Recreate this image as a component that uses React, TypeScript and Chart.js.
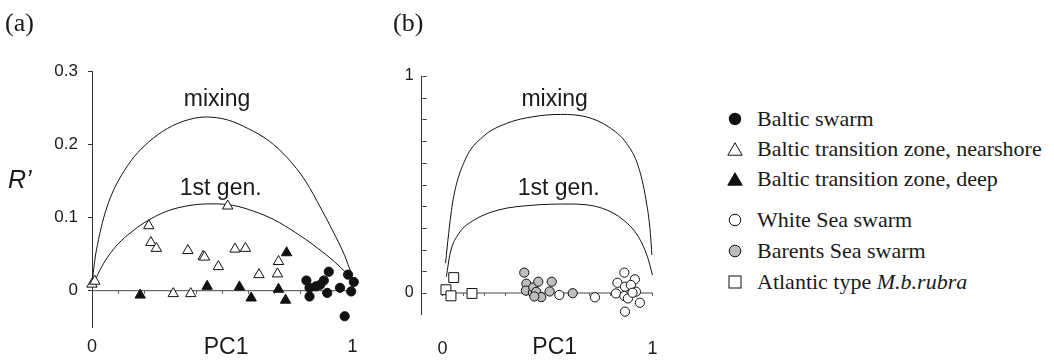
import React, { useEffect, useRef } from 'react';
import { Chart, registerables } from 'chart.js';

Chart.register(...registerables);

const SANS = '"Liberation Sans", Arial, sans-serif';
const SERIF = '"Liberation Serif", "Times New Roman", serif';

// ---------- Panel (a) data ----------
const balticSwarm: [number, number][] = [
  [0.823, 0.014], [0.835, 0.004], [0.835, -0.008], [0.86, 0.006], [0.876, 0.008],
  [0.89, 0.014], [0.909, 0.026], [0.903, -0.003], [0.952, 0.004], [0.983, 0.022],
  [1.005, 0.012], [0.995, -0.001], [0.97, -0.035],
];
const balticNearshore: [number, number][] = [
  [0.0, 0.009], [0.011, 0.013], [0.218, 0.089], [0.226, 0.066], [0.247, 0.058],
  [0.368, 0.055], [0.427, 0.047], [0.432, 0.046], [0.485, 0.033], [0.521, 0.116],
  [0.549, 0.057], [0.589, 0.058], [0.641, 0.022], [0.716, 0.04], [0.712, 0.023],
  [0.312, -0.004], [0.379, -0.004],
];
const balticDeep: [number, number][] = [
  [0.185, -0.006], [0.442, 0.006], [0.566, 0.005], [0.611, -0.01],
  [0.716, 0.002], [0.743, -0.013], [0.747, 0.052],
];
const mixingA: [number, number][] = [
  [0.0, 0.008], [0.01, 0.04], [0.025, 0.07], [0.045, 0.1], [0.07, 0.127],
  [0.1, 0.15], [0.15, 0.178], [0.2, 0.198], [0.27, 0.218], [0.35, 0.232],
  [0.435, 0.238], [0.52, 0.234], [0.6, 0.222], [0.68, 0.205], [0.75, 0.182],
  [0.82, 0.15], [0.88, 0.112], [0.93, 0.078], [0.97, 0.048], [0.995, 0.024],
];
const firstGenA: [number, number][] = [
  [0.005, 0.008], [0.03, 0.028], [0.06, 0.046], [0.1, 0.064], [0.15, 0.08],
  [0.2, 0.093], [0.288, 0.109], [0.38, 0.117], [0.46, 0.119], [0.54, 0.117],
  [0.62, 0.109], [0.7, 0.097], [0.78, 0.08], [0.86, 0.06], [0.93, 0.04],
  [0.977, 0.024],
];

// ---------- Panel (b) data ----------
const whiteSea: [number, number][] = [
  [0.556, -0.009], [0.726, -0.02], [0.866, 0.094], [0.833, 0.047], [0.916, 0.063],
  [0.826, -0.002], [0.869, 0.029], [0.897, 0.037], [0.866, -0.014], [0.883, -0.025],
  [0.921, 0.006], [0.905, 0.001], [0.94, -0.045], [0.869, -0.086],
];
const barentsSea: [number, number][] = [
  [0.389, 0.094], [0.399, 0.043], [0.397, 0.011], [0.43, 0.001], [0.432, 0.026],
  [0.456, 0.052], [0.446, 0.005], [0.47, -0.019], [0.437, -0.016], [0.52, 0.052],
  [0.51, 0.007], [0.62, -0.001],
];
const atlanticRubra: [number, number][] = [
  [0.053, 0.071], [0.016, 0.015], [0.04, -0.013], [0.14, -0.002],
];
const mixingB: [number, number][] = [
  [0.014, 0.137], [0.029, 0.275], [0.05, 0.43], [0.107, 0.613], [0.192, 0.72],
  [0.306, 0.782], [0.435, 0.813], [0.563, 0.823], [0.691, 0.81], [0.79, 0.766],
  [0.876, 0.69], [0.933, 0.582], [0.969, 0.43], [0.99, 0.275], [0.997, 0.175],
];
const firstGenB: [number, number][] = [
  [0.018, 0.075], [0.036, 0.183], [0.078, 0.275], [0.15, 0.336], [0.264, 0.382],
  [0.435, 0.405], [0.605, 0.41], [0.762, 0.39], [0.862, 0.336], [0.933, 0.259],
  [0.976, 0.167], [1.0, 0.083],
];
const zeroLine: [number, number][] = [[0, 0], [1, 0]];

// ---------- tick values ----------
const xTicks = [0, 0.1, 0.2, 0.3, 0.4, 0.5, 0.6, 0.7, 0.8, 0.9, 1];
const xLabelled = [0, 1];
const yTicksA = [0, 0.1, 0.2, 0.3];
const yTicksB = [0, 0.1, 0.2, 0.3, 0.4, 0.5, 0.6, 0.7, 0.8, 0.9, 1];
const yLabelledB = [0, 1];

const pts = (a: [number, number][]) => a.map(([x, y]) => ({ x, y }));

const textPlugin = {
  id: 'panelText',
  afterDraw(chart: any, _args: any, opts: any) {
    const { ctx, chartArea } = chart;
    const xs = chart.scales.x;
    const ys = chart.scales.y;
    ctx.save();
    if (opts.innerTicks) {
      ctx.strokeStyle = '#333';
      ctx.lineWidth = 1;
      const x0 = Math.round(chartArea.left) + 0.5;
      for (const t of ys.ticks) {
        const py = Math.round(ys.getPixelForValue(t.value)) + 0.5;
        ctx.beginPath();
        ctx.moveTo(x0, py);
        ctx.lineTo(x0 + 4, py);
        ctx.stroke();
      }
    }
    for (const it of opts.items || []) {
      ctx.font = it.font;
      ctx.fillStyle = '#1a1a1a';
      ctx.textAlign = it.align || 'center';
      ctx.textBaseline = 'alphabetic';
      const px = it.px ?? xs.getPixelForValue(it.x);
      const py = it.py ?? ys.getPixelForValue(it.y);
      ctx.fillText(it.text, px, py);
    }
    ctx.restore();
  },
};

const curveDs = (label: string, data: [number, number][]) => ({
  label,
  data: pts(data),
  showLine: true,
  pointRadius: 0,
  borderColor: '#111',
  borderWidth: 1,
  cubicInterpolationMode: 'monotone',
  fill: false,
  clip: false,
});

const xScale = (min: number) => ({
  type: 'linear',
  min,
  max: 1,
  position: { y: 0 },
  afterBuildTicks: (s: any) => { s.ticks = xTicks.map((v) => ({ value: v })); },
  border: { display: false },
  grid: { display: true, drawOnChartArea: false, drawTicks: true, tickLength: 3, color: '#666' },
  ticks: {
    padding: 42.5,
    maxRotation: 0,
    autoSkip: false,
    color: '#1a1a1a',
    font: { family: SANS, size: 18 },
    callback: (v: any) => (xLabelled.includes(Number(v)) ? String(v) : ''),
  },
});

function configA(): any {
  return {
    type: 'scatter',
    data: {
      datasets: [
        {
          label: 'Baltic swarm', data: pts(balticSwarm), pointStyle: 'circle', pointRadius: 4.6,
          backgroundColor: '#111', borderColor: '#111', borderWidth: 1, clip: false,
        },
        {
          label: 'Baltic transition zone, deep', data: pts(balticDeep), pointStyle: 'triangle', pointRadius: 6,
          backgroundColor: '#111', borderColor: '#111', borderWidth: 1, clip: false,
        },
        {
          label: 'Baltic transition zone, nearshore', data: pts(balticNearshore), pointStyle: 'triangle', pointRadius: 6,
          backgroundColor: '#fff', borderColor: '#111', borderWidth: 1, clip: false,
        },
        curveDs('mixing', mixingA),
        curveDs('1st gen.', firstGenA),
        { ...curveDs('zero', zeroLine), borderColor: '#444', cubicInterpolationMode: 'default' },
      ],
    },
    options: {
      animation: false,
      responsive: false,
      events: [],
      layout: { padding: { left: 0, right: 37, top: 71.7, bottom: 33.8 } },
      plugins: {
        legend: { display: false },
        tooltip: { enabled: false },
        panelText: {
          items: [
            { text: '(a)', px: 5, py: 31, font: `26px ${SERIF}`, align: 'left' },
            { text: 'R\u2019', px: 8, py: 188, font: `italic 25px ${SANS}`, align: 'left' },
            { text: 'mixing', x: 0.48, y: 0.253, font: `23px ${SANS}` },
            { text: '1st gen.', x: 0.494, y: 0.1315, font: `23px ${SANS}` },
            { text: 'PC1', x: 0.515, py: 354, font: `23px ${SANS}` },
          ],
        },
      },
      scales: {
        x: xScale(0),
        y: {
          type: 'linear',
          min: -0.05,
          max: 0.3,
          afterBuildTicks: (s: any) => { s.ticks = yTicksA.map((v) => ({ value: v })); },
          afterFit: (s: any) => { s.width = 92; },
          border: { display: true, color: '#333', width: 1 },
          grid: { display: true, drawOnChartArea: false, drawTicks: true, tickLength: 4, color: '#333' },
          ticks: {
            padding: 10,
            color: '#1a1a1a',
            font: { family: SANS, size: 17 },
            callback: (v: any) => (Number(v) === 0 ? '0' : Number(v).toFixed(1)),
          },
        },
      },
    },
    plugins: [textPlugin],
  };
}

function configB(): any {
  return {
    type: 'scatter',
    data: {
      datasets: [
        {
          label: 'White Sea swarm', data: pts(whiteSea), pointStyle: 'circle', pointRadius: 4.6,
          backgroundColor: '#fff', borderColor: '#111', borderWidth: 1, clip: false,
        },
        {
          label: 'Barents Sea swarm', data: pts(barentsSea), pointStyle: 'circle', pointRadius: 4.6,
          backgroundColor: '#bdbdbd', borderColor: '#111', borderWidth: 1, clip: false,
        },
        {
          label: 'Atlantic type M.b.rubra', data: pts(atlanticRubra), pointStyle: 'rect', pointRadius: 7,
          backgroundColor: '#fff', borderColor: '#111', borderWidth: 1, clip: false,
        },
        curveDs('mixing', mixingB),
        curveDs('1st gen.', firstGenB),
        { ...curveDs('zero', zeroLine), borderColor: '#444', cubicInterpolationMode: 'default' },
      ],
    },
    options: {
      animation: false,
      responsive: false,
      events: [],
      layout: { padding: { left: 0, right: 21, top: 76, bottom: 46.3 } },
      plugins: {
        legend: { display: false },
        tooltip: { enabled: false },
        panelText: {
          innerTicks: true,
          items: [
            { text: '(b)', px: 33, py: 31, font: `26px ${SERIF}`, align: 'left' },
            { text: 'mixing', x: 0.534, y: 0.862, font: `23px ${SANS}` },
            { text: '1st gen.', x: 0.553, y: 0.452, font: `23px ${SANS}` },
            { text: 'PC1', x: 0.534, py: 354, font: `23px ${SANS}` },
          ],
        },
      },
      scales: {
        x: xScale(-0.1),
        y: {
          type: 'linear',
          min: -0.1,
          max: 1,
          afterBuildTicks: (s: any) => { s.ticks = yTicksB.map((v) => ({ value: v })); },
          afterFit: (s: any) => { s.width = 61.6; },
          border: { display: true, color: '#333', width: 1 },
          grid: { display: false, drawTicks: false },
          ticks: {
            padding: 8,
            color: '#1a1a1a',
            font: { family: SANS, size: 16 },
            callback: (v: any) => (yLabelledB.includes(Number(v)) ? String(v) : ''),
          },
        },
      },
    },
    plugins: [textPlugin],
  };
}

const legendRows = [
  { label: 'Baltic swarm', marker: 'dot', cy: 119.3 },
  { label: 'Baltic transition zone, nearshore', marker: 'triOpen', cy: 149.3 },
  { label: 'Baltic transition zone, deep', marker: 'triFilled', cy: 179.3 },
  { label: 'White Sea swarm', marker: 'circleOpen', cy: 220 },
  { label: 'Barents Sea swarm', marker: 'circleGray', cy: 250.7 },
  { label: 'Atlantic type ', italic: 'M.b.rubra', marker: 'square', cy: 281.7 },
];

function Marker({ kind }: { kind: string }) {
  let shape: any = null;
  if (kind === 'dot') shape = <circle cx={8} cy={8} r={6.2} fill="#111" />;
  if (kind === 'circleOpen') shape = <circle cx={8} cy={8} r={5.8} fill="#fff" stroke="#111" strokeWidth={1} />;
  if (kind === 'circleGray') shape = <circle cx={8} cy={8} r={5.8} fill="#bdbdbd" stroke="#111" strokeWidth={1} />;
  if (kind === 'triOpen') shape = <polygon points="8,1.8 15.2,14.2 0.8,14.2" fill="#fff" stroke="#111" strokeWidth={1} />;
  if (kind === 'triFilled') shape = <polygon points="8,1.8 15.2,14.2 0.8,14.2" fill="#111" stroke="#111" strokeWidth={1} />;
  if (kind === 'square') shape = <rect x={2} y={2} width={12} height={12} fill="#fff" stroke="#111" strokeWidth={1} />;
  return (
    <svg width={16} height={16} viewBox="0 0 16 16" style={{ display: 'block', flex: '0 0 auto' }}>
      {shape}
    </svg>
  );
}

export default function App() {
  const refA = useRef<HTMLCanvasElement | null>(null);
  const refB = useRef<HTMLCanvasElement | null>(null);

  useEffect(() => {
    const a = new Chart(refA.current as HTMLCanvasElement, configA());
    const b = new Chart(refB.current as HTMLCanvasElement, configB());
    return () => {
      a.destroy();
      b.destroy();
    };
  }, []);

  return (
    <div style={{ position: 'absolute', left: 0, top: 0, width: 1054, height: 361, background: '#fff', overflow: 'hidden' }}>
      <canvas ref={refA} width={400} height={361} style={{ position: 'absolute', left: 0, top: 0, width: 400, height: 361 }} />
      <canvas ref={refB} width={340} height={361} style={{ position: 'absolute', left: 360, top: 0, width: 340, height: 361 }} />
      {legendRows.map((r) => (
        <div
          key={r.label}
          style={{
            position: 'absolute', left: 727, top: r.cy - 12, height: 24, display: 'flex', alignItems: 'center',
            fontFamily: SERIF, fontSize: 22, lineHeight: '24px', color: '#1a1a1a', whiteSpace: 'nowrap',
          }}
        >
          <Marker kind={r.marker} />
          <span style={{ marginLeft: 14 }}>
            {r.label}
            {r.italic ? <i>{r.italic}</i> : null}
          </span>
        </div>
      ))}
    </div>
  );
}
